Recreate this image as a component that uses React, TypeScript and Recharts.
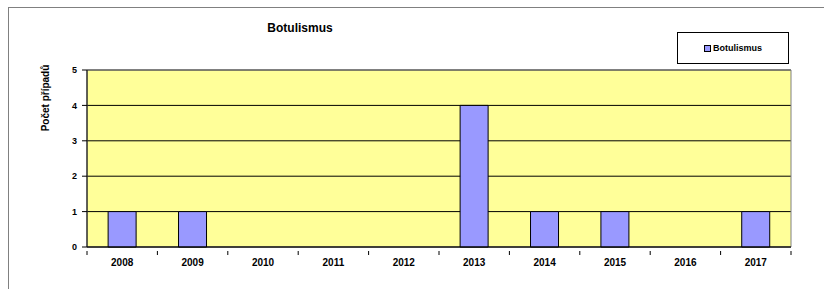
import React from 'react'
import { BarChart, Bar, XAxis, YAxis, CartesianGrid, ReferenceArea } from 'recharts'

const years = ['2008', '2009', '2010', '2011', '2012', '2013', '2014', '2015', '2016', '2017']
const cases = [1, 1, 0, 0, 0, 4, 1, 1, 0, 1]
const yTicks = [0, 1, 2, 3, 4, 5]
const seriesName = 'Botulismus'
const chartTitle = 'Botulismus'
const yTitle = 'Počet případů'

const data = years.map((year, i) => ({ year, value: cases[i] }))

const font = '"Liberation Sans", Arial, sans-serif'

function YearTick(props: any) {
  const { x, y, payload, index } = props
  const half = payload && payload.offset ? payload.offset : 35.2
  return (
    <g>
      <line x1={x - half} y1={y - 4} x2={x - half} y2={y} stroke="#000" />
      {index === years.length - 1 && (
        <line x1={x + half} y1={y - 4} x2={x + half} y2={y} stroke="#000" />
      )}
      <text x={x} y={y + 11} textAnchor="middle" fontFamily={font} fontWeight="bold" fontSize={10} fill="#000">
        {payload.value}
      </text>
    </g>
  )
}

function LegendBox() {
  return (
    <div
      style={{
        position: 'absolute',
        left: 677,
        top: 32,
        width: 110,
        height: 30,
        border: '1px solid #000',
        background: '#fff',
        display: 'flex',
        alignItems: 'center',
        justifyContent: 'center',
        fontFamily: font,
        fontWeight: 'bold',
        fontSize: 9,
        color: '#000',
      }}
    >
      <span style={{ display: 'inline-block', width: 5, height: 5, background: '#9999FF', border: '1px solid #000', marginRight: 2 }} />
      {seriesName}
    </div>
  )
}

export default function App() {
  return (
    <div style={{ position: 'fixed', left: 0, top: 0, width: 824, height: 289, overflow: 'hidden', background: '#fff' }}>
      <div style={{ position: 'absolute', left: 8, top: 7, width: 900, height: 400, borderTop: '1px solid #808080', borderLeft: '1px solid #808080' }} />
      <div style={{ position: 'absolute', left: 200, top: 21, width: 200, textAlign: 'center', fontFamily: font, fontWeight: 'bold', fontSize: 12, color: '#000' }}>
        {chartTitle}
      </div>
      <div style={{ position: 'absolute', left: 0, top: 0 }}>
        <BarChart width={824} height={289} data={data} margin={{ top: 70, right: 33, bottom: 0, left: 0 }} barCategoryGap="30%">
          <CartesianGrid vertical={false} stroke="#000" fill="#FFFF99" fillOpacity={1} />
          <ReferenceArea y1={0} y2={5} fill="none" stroke="#808080" strokeWidth={1} ifOverflow="visible" />
          <XAxis
            dataKey="year"
            height={42}
            axisLine={{ stroke: '#000' }}
            tickLine={false}
            tick={<YearTick />}
            interval={0}
          />
          <YAxis
            width={87}
            domain={[0, 5]}
            ticks={yTicks}
            axisLine={{ stroke: '#000' }}
            tickLine={{ stroke: '#000' }}
            tickSize={5}
            tickMargin={5}
            tick={{ fontFamily: font, fontWeight: 'bold', fontSize: 9, fill: '#000' }}
            label={{
              content: () => (
                <text x={46} y={98} transform="rotate(-90 46 98)" textAnchor="middle" dominantBaseline="middle" fontFamily={font} fontWeight="bold" fontSize={10} fill="#000">
                  {yTitle}
                </text>
              ),
            }}
          />
          <Bar dataKey="value" name={seriesName} fill="#9999FF" stroke="#000" strokeWidth={1} isAnimationActive={false} />
        </BarChart>
      </div>
      <LegendBox />
    </div>
  )
}
